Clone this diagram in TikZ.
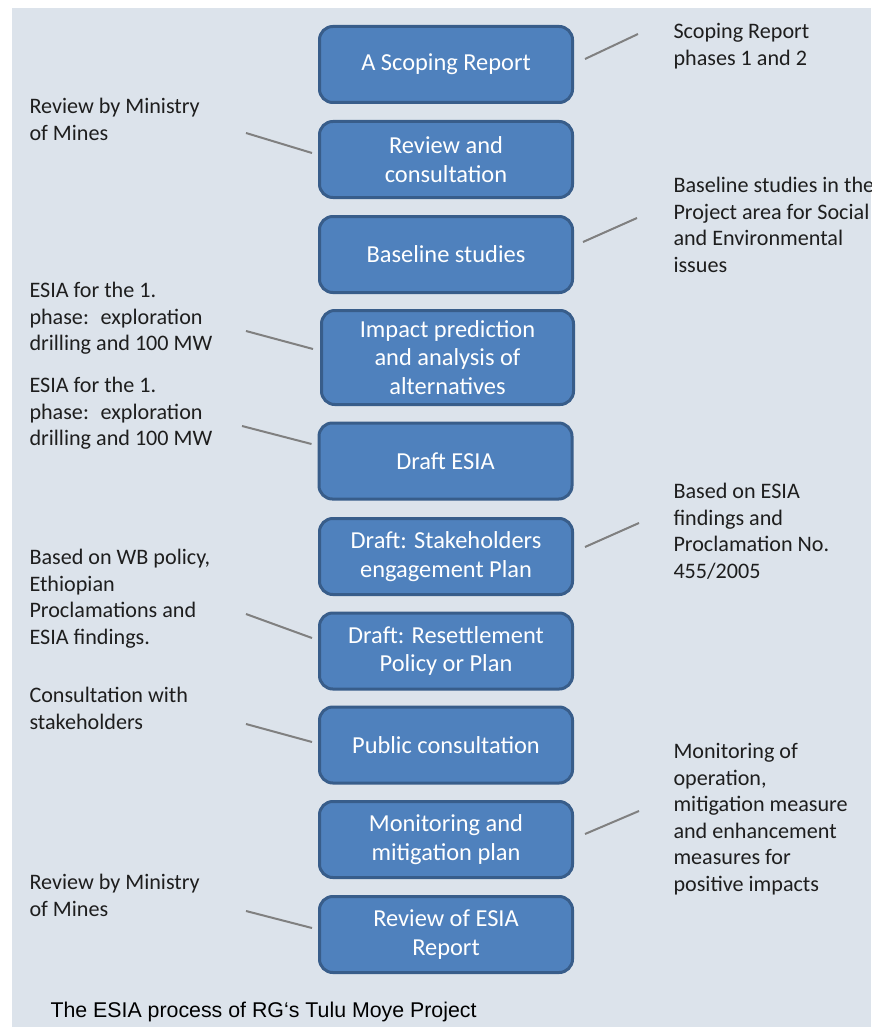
\documentclass[tikz,border=0pt]{standalone}
\usepackage{fontspec}
\setmainfont{Carlito}
\newfontfamily\captionfont{Liberation Sans}

\tikzset{every picture/.style={line width=0.75pt}}

\begin{document}
\begin{tikzpicture}[x=0.75pt,y=0.75pt,yscale=-1,xscale=1,
    stepbox/.style={draw={rgb, 255:red, 56; green, 93; blue, 138}, line width=2.25pt, fill={rgb, 255:red, 79; green, 129; blue, 189}, rounded corners=10pt, minimum width=189.75pt, minimum height=57pt, inner sep=0pt, align=center, text={rgb, 255:red, 255; green, 255; blue, 255}, font=\fontsize{18.3}{21.5}\selectfont},
    note/.style={anchor=north west, inner sep=0pt, align=left, text={rgb, 255:red, 30; green, 30; blue, 30}, font=\fontsize{16.6}{19.9}\selectfont},
    leader/.style={draw={rgb, 255:red, 128; green, 128; blue, 128}, line width=1.5pt}]
\useasboundingbox (0,0) rectangle (871,1027);
\fill [fill={rgb, 255:red, 220; green, 227; blue, 235}] (12,8) rectangle (871,1027);

% process steps
\node [stepbox] (scop) at (446,64.5) {A Scoping Report};
\node [stepbox] (revw) at (446,159.5) {Review and\\consultation};
\node [stepbox] (base) at (446,254.5) {Baseline studies};
\node [stepbox, minimum width=189pt, minimum height=70.5pt] (impc) at (447.5,357.5) {Impact prediction\\and analysis of\\alternatives};
\node [stepbox] (desia) at (445.5,461) {Draft ESIA};
\node [stepbox] (sehp) at (446,556.5) {Draft: Stakeholders\\engagement Plan};
\node [stepbox] (rsp) at (446,651) {Draft: Resettlement\\Policy or Plan};
\node [stepbox] (pubc) at (446,745) {Public consultation};
\node [stepbox] (mmp) at (446,839.5) {Monitoring and\\mitigation plan};
\node [stepbox] (rerep) at (446,934.5) {Review of ESIA\\Report};

% notes on the right
\node [note] (nscop) at (673,23) {Scoping Report\\phases 1 and 2};
\node [note] (nbase) at (673,177) {Baseline studies in the\\Project area for Social\\and Environmental\\issues};
\node [note] (nsehp) at (673,483) {Based on ESIA\\findings and\\Proclamation No.\\455/2005};
\node [note] (nmmp) at (673,743) {Monitoring of\\operation,\\mitigation measure\\and enhancement\\measures for\\positive impacts};

% notes on the left
\node [note] (nrevw) at (29,98) {Review by Ministry\\of Mines};
\node [note] (nimpc) at (29,282) {ESIA for the 1.\\phase:~ exploration\\drilling and 100 MW};
\node [note] (ndesia) at (29,377) {ESIA for the 1.\\phase:~ exploration\\drilling and 100 MW};
\node [note] (nrsp) at (29,549) {Based on WB policy,\\Ethiopian\\Proclamations and\\ESIA findings.};
\node [note] (npubc) at (29,687) {Consultation with\\stakeholders};
\node [note] (nrerep) at (29,874) {Review by Ministry\\of Mines};

% leader lines
\coordinate (tscop) at (638,34);
\coordinate (tbase) at (637,218);
\coordinate (tsehp) at (639,523);
\coordinate (tmmp) at (639,811);
\coordinate (trevw) at (246,133);
\coordinate (timpc) at (246,331);
\coordinate (tdesia) at (242,426);
\coordinate (trsp) at (246,614);
\coordinate (tpubc) at (246,724);
\coordinate (trerep) at (246,911);
\draw [leader] ([shift={(11,-5.5)}]scop.east) -- (tscop);
\draw [leader] ([shift={(9,-12.5)}]base.east) -- (tbase);
\draw [leader] ([shift={(11,-9.5)}]sehp.east) -- (tsehp);
\draw [leader] ([shift={(11,-5.5)}]mmp.east) -- (tmmp);
\draw [leader] ([shift={(-6,-6.5)}]revw.west) -- (trevw);
\draw [leader] ([shift={(-7,-8.5)}]impc.west) -- (timpc);
\draw [leader] ([shift={(-6,-17)}]desia.west) -- (tdesia);
\draw [leader] ([shift={(-6,-13)}]rsp.west) -- (trsp);
\draw [leader] ([shift={(-6,-3)}]pubc.west) -- (tpubc);
\draw [leader] ([shift={(-6,-6.5)}]rerep.west) -- (trerep);

\node [anchor=base west, inner sep=0pt, text={rgb, 255:red, 0; green, 0; blue, 0}, font=\captionfont\fontsize{16}{19}\selectfont] (capt) at (50,1017) {The ESIA process of RG‘s Tulu Moye Project};
\end{tikzpicture}
\end{document}
